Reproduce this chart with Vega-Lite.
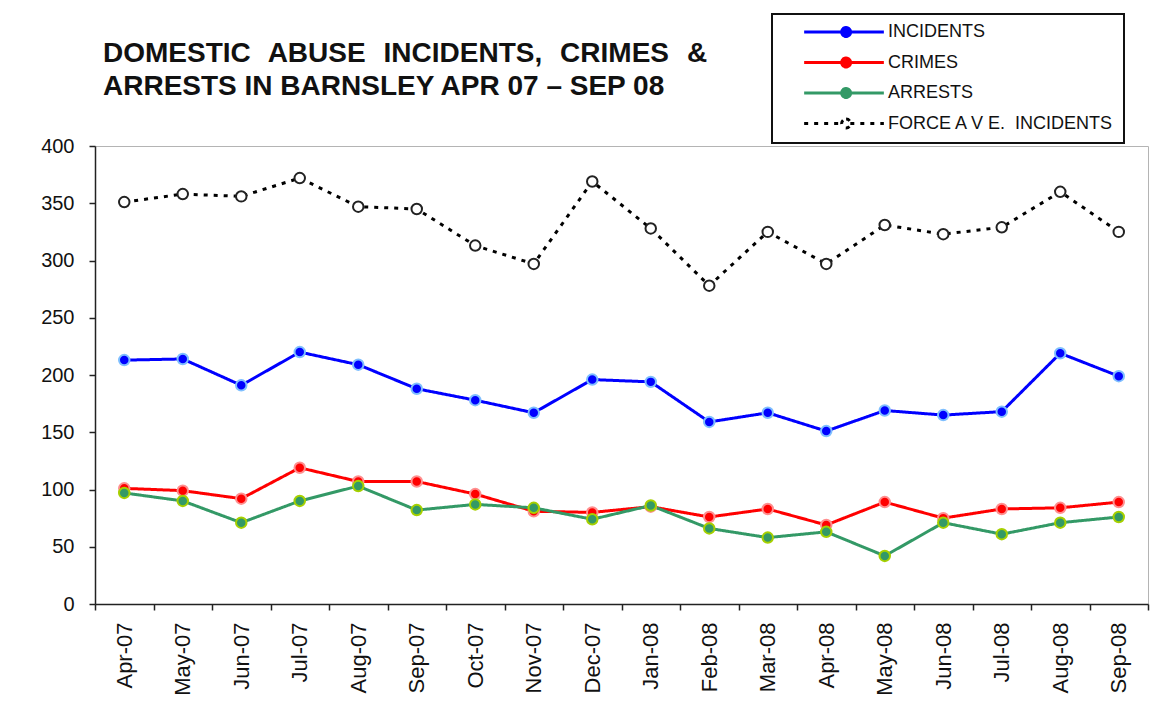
{
  "$schema": "https://vega.github.io/schema/vega-lite/v6.json",
  "width": 1053,
  "height": 458,
  "autosize": {"type": "none"},
  "padding": {"left": 95, "top": 146, "right": 14, "bottom": 121},
  "background": "white",
  "config": {
    "view": {"stroke": "#b4b4b4", "strokeWidth": 1},
    "font": "Liberation Sans"
  },
  "title": {
    "text": ["DOMESTIC\u00a0\u200a ABUSE\u00a0\u200a INCIDENTS,\u00a0\u200a CRIMES\u00a0\u200a &", "ARRESTS IN BARNSLEY APR 07 – SEP 08"],
    "anchor": "start",
    "frame": "group",
    "orient": "top",
    "baseline": "alphabetic",
    "font": "Liberation Sans",
    "fontSize": 28,
    "fontWeight": "bold",
    "color": "#111111",
    "lineHeight": 33,
    "offset": 0,
    "dx": 8,
    "dy": 110
  },
  "data": {
    "values": [
      {"month": "Apr-07", "series": "INCIDENTS", "value": 213},
      {"month": "May-07", "series": "INCIDENTS", "value": 214},
      {"month": "Jun-07", "series": "INCIDENTS", "value": 191},
      {"month": "Jul-07", "series": "INCIDENTS", "value": 220},
      {"month": "Aug-07", "series": "INCIDENTS", "value": 209},
      {"month": "Sep-07", "series": "INCIDENTS", "value": 188},
      {"month": "Oct-07", "series": "INCIDENTS", "value": 178},
      {"month": "Nov-07", "series": "INCIDENTS", "value": 167},
      {"month": "Dec-07", "series": "INCIDENTS", "value": 196},
      {"month": "Jan-08", "series": "INCIDENTS", "value": 194},
      {"month": "Feb-08", "series": "INCIDENTS", "value": 159},
      {"month": "Mar-08", "series": "INCIDENTS", "value": 167},
      {"month": "Apr-08", "series": "INCIDENTS", "value": 151},
      {"month": "May-08", "series": "INCIDENTS", "value": 169},
      {"month": "Jun-08", "series": "INCIDENTS", "value": 165},
      {"month": "Jul-08", "series": "INCIDENTS", "value": 168},
      {"month": "Aug-08", "series": "INCIDENTS", "value": 219},
      {"month": "Sep-08", "series": "INCIDENTS", "value": 199},
      {"month": "Apr-07", "series": "CRIMES", "value": 101},
      {"month": "May-07", "series": "CRIMES", "value": 99},
      {"month": "Jun-07", "series": "CRIMES", "value": 92},
      {"month": "Jul-07", "series": "CRIMES", "value": 119},
      {"month": "Aug-07", "series": "CRIMES", "value": 107},
      {"month": "Sep-07", "series": "CRIMES", "value": 107},
      {"month": "Oct-07", "series": "CRIMES", "value": 96},
      {"month": "Nov-07", "series": "CRIMES", "value": 81},
      {"month": "Dec-07", "series": "CRIMES", "value": 80},
      {"month": "Jan-08", "series": "CRIMES", "value": 85},
      {"month": "Feb-08", "series": "CRIMES", "value": 76},
      {"month": "Mar-08", "series": "CRIMES", "value": 83},
      {"month": "Apr-08", "series": "CRIMES", "value": 69},
      {"month": "May-08", "series": "CRIMES", "value": 89},
      {"month": "Jun-08", "series": "CRIMES", "value": 75},
      {"month": "Jul-08", "series": "CRIMES", "value": 83},
      {"month": "Aug-08", "series": "CRIMES", "value": 84},
      {"month": "Sep-08", "series": "CRIMES", "value": 89},
      {"month": "Apr-07", "series": "ARRESTS", "value": 97},
      {"month": "May-07", "series": "ARRESTS", "value": 90},
      {"month": "Jun-07", "series": "ARRESTS", "value": 71},
      {"month": "Jul-07", "series": "ARRESTS", "value": 90},
      {"month": "Aug-07", "series": "ARRESTS", "value": 103},
      {"month": "Sep-07", "series": "ARRESTS", "value": 82},
      {"month": "Oct-07", "series": "ARRESTS", "value": 87},
      {"month": "Nov-07", "series": "ARRESTS", "value": 84},
      {"month": "Dec-07", "series": "ARRESTS", "value": 74},
      {"month": "Jan-08", "series": "ARRESTS", "value": 86},
      {"month": "Feb-08", "series": "ARRESTS", "value": 66},
      {"month": "Mar-08", "series": "ARRESTS", "value": 58},
      {"month": "Apr-08", "series": "ARRESTS", "value": 63},
      {"month": "May-08", "series": "ARRESTS", "value": 42},
      {"month": "Jun-08", "series": "ARRESTS", "value": 71},
      {"month": "Jul-08", "series": "ARRESTS", "value": 61},
      {"month": "Aug-08", "series": "ARRESTS", "value": 71},
      {"month": "Sep-08", "series": "ARRESTS", "value": 76},
      {"month": "Apr-07", "series": "FORCE AVE. INCIDENTS", "value": 351},
      {"month": "May-07", "series": "FORCE AVE. INCIDENTS", "value": 358},
      {"month": "Jun-07", "series": "FORCE AVE. INCIDENTS", "value": 356},
      {"month": "Jul-07", "series": "FORCE AVE. INCIDENTS", "value": 372},
      {"month": "Aug-07", "series": "FORCE AVE. INCIDENTS", "value": 347},
      {"month": "Sep-07", "series": "FORCE AVE. INCIDENTS", "value": 345},
      {"month": "Oct-07", "series": "FORCE AVE. INCIDENTS", "value": 313},
      {"month": "Nov-07", "series": "FORCE AVE. INCIDENTS", "value": 297},
      {"month": "Dec-07", "series": "FORCE AVE. INCIDENTS", "value": 369},
      {"month": "Jan-08", "series": "FORCE AVE. INCIDENTS", "value": 328},
      {"month": "Feb-08", "series": "FORCE AVE. INCIDENTS", "value": 278},
      {"month": "Mar-08", "series": "FORCE AVE. INCIDENTS", "value": 325},
      {"month": "Apr-08", "series": "FORCE AVE. INCIDENTS", "value": 297},
      {"month": "May-08", "series": "FORCE AVE. INCIDENTS", "value": 331},
      {"month": "Jun-08", "series": "FORCE AVE. INCIDENTS", "value": 323},
      {"month": "Jul-08", "series": "FORCE AVE. INCIDENTS", "value": 329},
      {"month": "Aug-08", "series": "FORCE AVE. INCIDENTS", "value": 360},
      {"month": "Sep-08", "series": "FORCE AVE. INCIDENTS", "value": 325}
    ]
  },
  "encoding": {
    "x": {
      "field": "month",
      "type": "ordinal",
      "sort": null,
      "scale": {
        "type": "band",
        "paddingInner": 0,
        "paddingOuter": 0,
        "domain": ["Apr-07", "May-07", "Jun-07", "Jul-07", "Aug-07", "Sep-07", "Oct-07", "Nov-07", "Dec-07", "Jan-08", "Feb-08", "Mar-08", "Apr-08", "May-08", "Jun-08", "Jul-08", "Aug-08", "Sep-08"]
      },
      "axis": {
        "title": null,
        "labelAngle": -90,
        "labelFont": "Liberation Sans",
        "labelFontSize": 22,
        "labelColor": "#111111",
        "labelPadding": 12,
        "tickBand": "extent",
        "tickSize": 6,
        "tickColor": "#222222",
        "tickWidth": 1.5,
        "domainColor": "#222222",
        "domainWidth": 1.5,
        "grid": false
      }
    },
    "y": {
      "field": "value",
      "type": "quantitative",
      "scale": {"domain": [0, 400], "nice": false, "zero": true},
      "axis": {
        "title": null,
        "values": [0, 50, 100, 150, 200, 250, 300, 350, 400],
        "labelFont": "Liberation Sans",
        "labelFontSize": 20,
        "labelColor": "#111111",
        "labelPadding": 15,
        "tickSize": 6,
        "tickColor": "#222222",
        "tickWidth": 1.5,
        "domainColor": "#222222",
        "domainWidth": 1.5,
        "grid": false
      }
    }
  },
  "layer": [
    {
      "mark": {"type": "line", "strokeWidth": 3},
      "encoding": {
        "color": {
          "field": "series",
          "type": "nominal",
          "scale": {
            "domain": ["INCIDENTS", "CRIMES", "ARRESTS", "FORCE AVE. INCIDENTS"],
            "range": ["#0000ff", "#ff0000", "#339966", "#000000"]
          },
          "legend": {
            "title": null,
            "orient": "none",
            "legendX": 677,
            "legendY": -132,
            "direction": "vertical",
            "padding": 9,
            "strokeColor": "#111111",
            "fillColor": "white",
            "symbolType": "M2.7,0H9.9M11.5,0H17.9M10.7,-0.85A0.85,0.85 0 1,1 10.7,0.85A0.85,0.85 0 1,1 10.7,-0.85",
            "symbolSize": 400,
            "symbolStrokeWidth": 3,
            "labelOffset": 89,
            "labelFont": "Liberation Sans",
            "labelFontSize": 18,
            "labelColor": "#111111",
            "labelLimit": 400,
            "labelExpr": "datum.label === 'FORCE AVE. INCIDENTS' ? 'FORCE A V E.\u00a0 INCIDENTS' : datum.label",
            "rowPadding": 8.5,
            "encode": {
              "legend": {
                "update": {
                  "strokeWidth": {"value": 2}
                }
              },
              "symbols": {
                "update": {
                  "fill": {"scale": "fill", "field": "value"}
                }
              }
            }
          }
        },
        "strokeDash": {
          "field": "series",
          "type": "nominal",
          "scale": {
            "domain": ["INCIDENTS", "CRIMES", "ARRESTS", "FORCE AVE. INCIDENTS"],
            "range": [[1, 0], [1, 0], [1, 0], [4, 6]]
          },
          "legend": null
        }
      }
    },
    {
      "mark": {"type": "point", "filled": true, "opacity": 1, "strokeOpacity": 1, "strokeWidth": 2},
      "encoding": {
        "fill": {
          "field": "series",
          "type": "nominal",
          "scale": {
            "domain": ["INCIDENTS", "CRIMES", "ARRESTS", "FORCE AVE. INCIDENTS"],
            "range": ["#0000ff", "#ff0000", "#339966", "#ffffff"]
          },
          "legend": null
        },
        "stroke": {
          "field": "series",
          "type": "nominal",
          "scale": {
            "domain": ["INCIDENTS", "CRIMES", "ARRESTS", "FORCE AVE. INCIDENTS"],
            "range": ["#7fbfff", "#ff8f8f", "#a6d000", "#222222"]
          },
          "legend": null
        },
        "size": {
          "field": "series",
          "type": "nominal",
          "scale": {
            "domain": ["INCIDENTS", "CRIMES", "ARRESTS", "FORCE AVE. INCIDENTS"],
            "range": [110, 110, 120, 55]
          },
          "legend": null
        }
      }
    }
  ]
}
